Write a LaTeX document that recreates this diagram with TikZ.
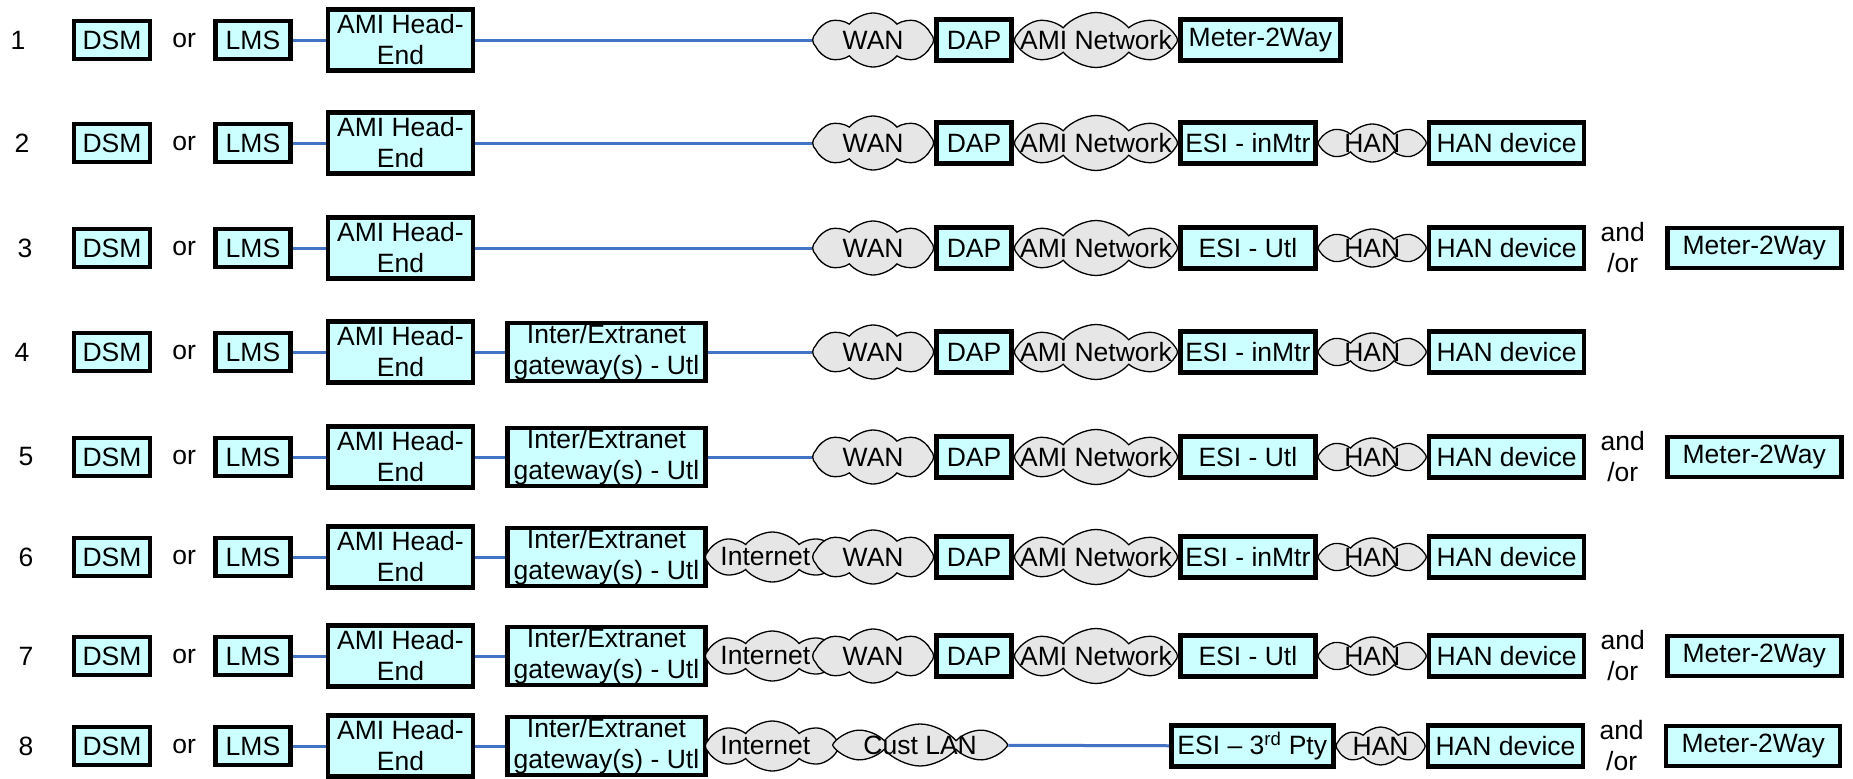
\documentclass[tikz,border=0pt]{standalone}
\usepackage{fontspec}
\setmainfont{Liberation Sans}
\usetikzlibrary{positioning,shapes.symbols}
\definecolor{boxfill}{HTML}{CCFFFF}
\definecolor{cloudfill}{HTML}{E6E6E6}
\definecolor{linkblue}{HTML}{4472C4}
\newcommand{\ctxt}[1]{\makebox[0pt]{#1}}
\tikzset{
  dev/.style={rectangle, draw, fill=boxfill, line width=4.5pt, inner sep=1pt, minimum height=41pt, align=center},
  net/.style={cloud, cloud puffs=8, cloud puff arc=100, cloud ignores aspect, draw, fill=cloudfill, line width=1.3pt, inner sep=0pt, minimum width=121pt, minimum height=54pt},
  link/.style={draw=linkblue, line width=3pt},
  word/.style={inner sep=0pt, align=center}
}

\begin{document}
\begin{tikzpicture}[x=1pt, y=-1pt, font=\fontsize{26.5}{31}\selectfont]
  \useasboundingbox[fill=white] (0,0) rectangle (1853,779);

  % left part, same in every row
  \foreach \r/\y/\nx in {1/40/18,2/143/22,3/248/25,4/352/22,5/457/26,6/557/26,7/656/26,8/746/26}{
    \node[word] (num\r) at (\nx,\y) {\r};
    \node[dev, minimum width=76pt, minimum height=38pt] (dsm\r) at (112,\y) {DSM};
    \node[word, right=20pt of dsm\r] (or\r) {or};
    \node[dev, minimum width=75pt, minimum height=38pt, right=17pt of or\r] (lms\r) {LMS};
    \node[dev, minimum width=145pt, minimum height=61pt, right=33pt of lms\r] (he\r) {AMI Head-\\End};
    \draw[link] (lms\r) -- (he\r);
  }

  % gateways
  \foreach \r in {4,...,8}{
    \node[dev, minimum width=198pt, minimum height=58pt, right=30pt of he\r] (gw\r) {Inter/Extranet\\gateway(s) - Utl};
    \draw[link] (he\r) -- (gw\r);
  }
  \foreach \r in {6,7,8}{
    \node[net, minimum width=134pt, minimum height=50pt, right=-3pt of gw\r] (inet\r) {\ctxt{Internet\hspace*{14pt}}};
  }

  % utility network
  \foreach \r/\y in {1/40,2/143,3/248,4/352,5/457,6/557,7/656}{
    \node[net, anchor=west] (wan\r) at (812,\y) {\ctxt{WAN}};
    \node[dev, minimum width=75pt, right=0pt of wan\r] (dap\r) {DAP};
    \node[net, minimum width=163pt, minimum height=55pt, right=0pt of dap\r] (ami\r) {\ctxt{AMI Network}};
  }
  \foreach \r in {1,2,3}{
    \draw[link] (he\r) -- (wan\r);
  }
  \draw[link] (gw4) -- (wan4);
  \draw[link] (gw5) -- (wan5);

  \node[dev, minimum width=160pt, right=0pt of ami1] (mtr1) {Meter-2Way};

  % ESI and HAN
  \foreach \r/\esi in {2/inMtr,3/Utl,4/inMtr,5/Utl,6/inMtr,7/Utl}{
    \node[dev, minimum width=135pt, right=0pt of ami\r] (esi\r) {ESI - \esi};
    \node[net, minimum width=108pt, minimum height=38pt, right=0pt of esi\r] (han\r) {\ctxt{HAN}};
    \node[dev, minimum width=155pt, right=0pt of han\r] (hdev\r) {HAN device};
  }

  % row 8, customer LAN
  \node[net, minimum width=175pt, minimum height=42pt, anchor=west] (lan8) at (832,745) {\ctxt{Cust LAN}};
  \node[dev, minimum width=162pt, anchor=west] (esi8) at (1169,746) {ESI – 3\textsuperscript{rd} Pty};
  \draw[link] (lan8) -- (esi8);
  \node[net, minimum width=89pt, minimum height=38pt, right=0pt of esi8] (han8) {\ctxt{HAN}};
  \node[dev, minimum width=155pt, right=0pt of han8] (hdev8) {HAN device};

  \foreach \r in {3,5,7,8}{
    \node[word, right=14pt of hdev\r] (andor\r) {and\\/or};
    \node[dev, minimum width=174pt, minimum height=40pt, right=20pt of andor\r] (mtr\r) {Meter-2Way};
  }
\end{tikzpicture}
\end{document}
